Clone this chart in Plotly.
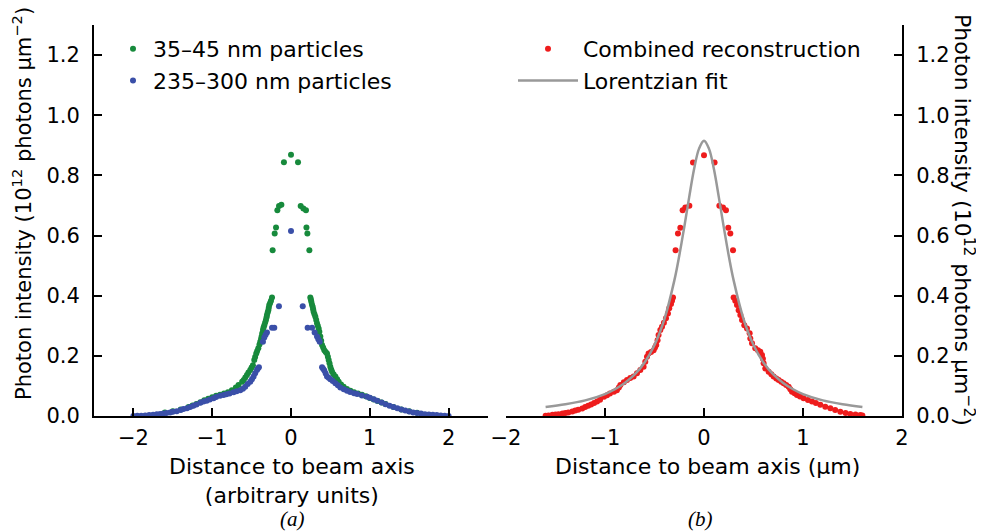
import plotly.graph_objects as go

# ---------------- data ----------------
# Panel (a): 35-45 nm particles (green)
green_x = [0.0, -0.09, 0.089, -0.173, -0.152, -0.122, 0.123, 0.157, 0.19,
           -0.19, -0.207, 0.196, 0.208, -0.233, 0.233,
           -1.60, -1.50, -1.40, -1.30, -1.25, -1.20, -1.15, -1.10, -1.05, -1.00,
           -0.95, -0.90, -0.85, -0.80, -0.75, -0.70, -0.666, -0.62, -0.60, -0.58,
           -0.559, -0.54, -0.517, -0.50, -0.483, -0.466, -0.455, -0.441, -0.43,
           -0.415, -0.40, -0.39, -0.38, -0.373, -0.365, -0.356, -0.348, -0.339,
           -0.328, -0.318, -0.31, -0.305, -0.296, -0.288, -0.282, -0.276, -0.265,
           -0.254, -0.241,
           0.245, 0.252, 0.258, 0.266, 0.275, 0.281, 0.287, 0.298, 0.309, 0.32,
           0.330, 0.340, 0.351, 0.36, 0.372, 0.383, 0.394, 0.408, 0.423, 0.44,
           0.457, 0.468, 0.478, 0.489, 0.499, 0.51, 0.521, 0.54, 0.563, 0.585,
           0.605, 0.635, 0.668, 0.71, 0.754, 0.80, 0.85, 0.90, 0.95, 1.00, 1.05,
           1.10, 1.15, 1.20, 1.30, 1.40, 1.50, 1.60]
green_y = [0.869, 0.844, 0.844, 0.684, 0.698, 0.702, 0.698, 0.690, 0.684,
           0.627, 0.607, 0.627, 0.607, 0.551, 0.551,
           0.012, 0.016, 0.022, 0.030, 0.035, 0.040, 0.046, 0.052, 0.057, 0.062,
           0.067, 0.071, 0.075, 0.079, 0.086, 0.095, 0.103, 0.114, 0.120, 0.128,
           0.136, 0.145, 0.153, 0.161, 0.169, 0.186, 0.196, 0.208, 0.216,
           0.225, 0.238, 0.247, 0.256, 0.264, 0.275, 0.286, 0.294, 0.302,
           0.311, 0.319, 0.328, 0.336, 0.344, 0.352, 0.360, 0.369, 0.376,
           0.383, 0.394,
           0.394, 0.387, 0.380, 0.371, 0.363, 0.355, 0.347, 0.338, 0.330, 0.319,
           0.308, 0.300, 0.291, 0.280, 0.264, 0.250, 0.236, 0.228, 0.219, 0.213,
           0.208, 0.197, 0.186, 0.175, 0.164, 0.155, 0.147, 0.139, 0.131, 0.122,
           0.114, 0.105, 0.097, 0.090, 0.084, 0.079, 0.075, 0.071, 0.066, 0.060,
           0.055, 0.050, 0.045, 0.040, 0.030, 0.022, 0.016, 0.011]

# Panel (a): 235-300 nm particles (blue)
blue_x = [0.0, -0.153, 0.149,
          -0.212, -0.241, -0.305, -0.322, -0.339, -0.356, -0.407, -0.42, -0.432,
          -0.455, -0.475, -0.496, -0.517, -0.55, -0.581, -0.61, -0.644, -0.69,
          -0.729, -0.78, -0.82, -0.856, -0.90, -0.95, -0.983, -1.03, -1.07, -1.11,
          -1.15, -1.20, -1.238, -1.28, -1.32, -1.365, -1.40, -1.45, -1.50, -1.534,
          -1.58, -1.62, -1.66, -1.703, -1.75, -1.80, -1.85, -1.90, -1.95, -2.00,
          0.211, 0.267, 0.30, 0.330, 0.347, 0.364, 0.394, 0.408, 0.423, 0.44,
          0.457, 0.478, 0.499, 0.53, 0.563, 0.595, 0.626, 0.67, 0.711, 0.75, 0.80,
          0.839, 0.90, 0.966, 1.00, 1.05, 1.093, 1.15, 1.20, 1.25, 1.30, 1.35,
          1.40, 1.45, 1.50, 1.55, 1.60, 1.65, 1.70, 1.75, 1.80, 1.85, 1.90, 1.95,
          2.00]
blue_y = [0.615, 0.365, 0.365,
          0.293, 0.293, 0.278, 0.270, 0.261, 0.247, 0.162, 0.158, 0.153,
          0.142, 0.131, 0.122, 0.114, 0.106, 0.097, 0.091, 0.086, 0.082,
          0.079, 0.075, 0.072, 0.070, 0.067, 0.063, 0.059, 0.055, 0.051, 0.048,
          0.044, 0.038, 0.034, 0.030, 0.026, 0.023, 0.020, 0.016, 0.014, 0.012,
          0.010, 0.008, 0.007, 0.006, 0.004, 0.003, 0.002, 0.001, 0.001, 0.000,
          0.293, 0.293, 0.278, 0.264, 0.255, 0.247, 0.162, 0.157, 0.151, 0.141,
          0.131, 0.127, 0.122, 0.116, 0.109, 0.102, 0.095, 0.089, 0.084, 0.080,
          0.076, 0.073, 0.068, 0.064, 0.061, 0.056, 0.051, 0.045, 0.039, 0.034,
          0.030, 0.026, 0.022, 0.018, 0.015, 0.012, 0.010, 0.008, 0.006, 0.005,
          0.004, 0.003, 0.002, 0.001, 0.000]

# Panel (b): combined reconstruction (red)
red_x = [0.0, -0.111, 0.107, -0.216, -0.189, -0.148, 0.155, 0.192, 0.222,
         -0.239, -0.263, 0.245, 0.266, -0.287, 0.293,
         -1.60, -1.57, -1.53, -1.50, -1.47, -1.43, -1.40, -1.37, -1.33, -1.30,
         -1.27, -1.23, -1.20, -1.17, -1.14, -1.11, -1.08, -1.05, -1.01, -0.98,
         -0.95, -0.91, -0.88, -0.86, -0.845, -0.81, -0.778, -0.745, -0.711,
         -0.677, -0.643, -0.61, -0.593, -0.576, -0.56, -0.535, -0.509, -0.495,
         -0.482, -0.469, -0.459, -0.441, -0.424, -0.405, -0.384, -0.364, -0.351,
         -0.333, -0.323, -0.313,
         0.299, 0.316, 0.333, 0.350, 0.367, 0.384, 0.407, 0.434, 0.461, 0.468,
         0.485, 0.518, 0.545, 0.569, 0.586, 0.595, 0.602, 0.619, 0.653, 0.68,
         0.703, 0.73, 0.754, 0.78, 0.804, 0.83, 0.855, 0.872, 0.889, 0.915,
         0.939, 0.97, 1.006, 1.05, 1.091, 1.13, 1.175, 1.225, 1.276, 1.325,
         1.377, 1.43, 1.478, 1.53, 1.579, 1.60]
red_y = [0.867, 0.843, 0.843, 0.684, 0.693, 0.699, 0.699, 0.693, 0.684,
         0.626, 0.607, 0.626, 0.607, 0.551, 0.551,
         0.001, 0.002, 0.004, 0.005, 0.006, 0.008, 0.010, 0.012, 0.015, 0.018,
         0.021, 0.025, 0.030, 0.034, 0.038, 0.043, 0.048, 0.054, 0.064, 0.069,
         0.075, 0.081, 0.086, 0.095, 0.103, 0.112, 0.120, 0.126, 0.131,
         0.142, 0.153, 0.164, 0.180, 0.197, 0.208, 0.213, 0.219, 0.228,
         0.236, 0.252, 0.269, 0.286, 0.297, 0.310, 0.325, 0.341, 0.358,
         0.372, 0.383, 0.394,
         0.394, 0.383, 0.369, 0.352, 0.336, 0.319, 0.302, 0.291, 0.275, 0.258,
         0.242, 0.225, 0.219, 0.214, 0.203, 0.190, 0.175, 0.158, 0.147, 0.139,
         0.131, 0.125, 0.120, 0.114, 0.109, 0.103, 0.097, 0.089, 0.081, 0.076,
         0.070, 0.065, 0.059, 0.053, 0.048, 0.043, 0.037, 0.031, 0.026, 0.020,
         0.014, 0.010, 0.007, 0.005, 0.003, 0.002]

# Panel (b): Lorentzian fit (grey line)
fit_x = [-1.6, -1.4, -1.2, -1.0, -0.9, -0.8, -0.7, -0.6, -0.5, -0.4, -0.3,
         -0.25, -0.2, -0.15, -0.1, -0.05, 0.0, 0.05, 0.1, 0.15, 0.2, 0.25, 0.3,
         0.4, 0.5, 0.6, 0.7, 0.8, 0.9, 1.0, 1.2, 1.4, 1.6]
fit_y = [0.030, 0.039, 0.052, 0.073, 0.089, 0.110, 0.138, 0.178, 0.236, 0.322,
         0.450, 0.533, 0.627, 0.727, 0.821, 0.889, 0.915, 0.889, 0.821, 0.727,
         0.627, 0.533, 0.450, 0.322, 0.236, 0.178, 0.138, 0.110, 0.089, 0.073,
         0.052, 0.039, 0.030]

x_ticks = [-2, -1, 0, 1, 2]
y_ticks = [0.0, 0.2, 0.4, 0.6, 0.8, 1.0, 1.2]

# ---------------- figure ----------------
FONT = "DejaVu Sans"
GREEN = "#178a3c"
BLUE = "#3a4fa8"
RED = "#ee1c1c"
GREY = "#999999"

fig = go.Figure()
fig.add_trace(go.Scatter(x=green_x, y=green_y, mode="markers", name="35–45 nm particles",
                         marker=dict(color=GREEN, size=6), xaxis="x", yaxis="y",
                         legend="legend", legendgroup="g1"))
fig.add_trace(go.Scatter(x=blue_x, y=blue_y, mode="markers", name="235–300 nm particles",
                         marker=dict(color=BLUE, size=6), xaxis="x", yaxis="y",
                         legend="legend", legendgroup="g2"))
fig.add_trace(go.Scatter(x=red_x, y=red_y, mode="markers", name="Combined reconstruction",
                         marker=dict(color=RED, size=6), xaxis="x2", yaxis="y2",
                         legend="legend2", legendgroup="g3"))
fig.add_trace(go.Scatter(x=fit_x, y=fit_y, mode="lines", name="Lorentzian fit",
                         line=dict(color=GREY, width=2.5, shape="spline"),
                         xaxis="x2", yaxis="y2", legend="legend2", legendgroup="g4"))

axis_common = dict(showgrid=False, zeroline=False, showline=True, linecolor="black",
                   linewidth=2, ticks="inside", ticklen=8, tickwidth=1.5,
                   tickcolor="black", tickfont=dict(family=FONT, size=21, color="black"))

# the page body has an 8px margin, so the figure is drawn from (8, 8)
OFF = 8
W, H = 984 - OFF, 532 - OFF
# absolute pixel positions in the window of the plot area
AX_L, AX_R, AX_T, AX_B = 94, 902, 25, 416
L = AX_L - OFF
R = W - (AX_R - OFF)
T = AX_T - OFF
B = H - (AX_B - OFF)
pw = AX_R - AX_L
ph = AX_B - AX_T


def px(pix):
    return (pix - AX_L) / pw


def py(pix):
    return (AX_B - pix) / ph


fig.update_layout(
    width=W, height=H,
    margin=dict(l=L, r=R, t=T, b=B),
    paper_bgcolor="white", plot_bgcolor="white",
    font=dict(family=FONT, size=22, color="black"),
    showlegend=True,
    xaxis=dict(domain=[0, px(488)], range=[-2.5, 2.5], tickvals=x_ticks,
               anchor="y", ticklabelstandoff=2, **axis_common),
    yaxis=dict(domain=[0, 1], range=[0, 1.3], tickvals=y_ticks, tickformat=".1f",
               anchor="x", ticklabelstandoff=8, **axis_common),
    xaxis2=dict(domain=[px(506), 1], range=[-2, 2], tickvals=x_ticks,
                anchor="y2", ticklabelstandoff=2, **axis_common),
    yaxis2=dict(domain=[0, 1], range=[0, 1.3], tickvals=y_ticks, tickformat=".1f",
                anchor="x2", side="right", ticklabelstandoff=8, **axis_common),
    legend=dict(x=px(113), y=py(28), xanchor="left", yanchor="top",
                bgcolor="rgba(0,0,0,0)", borderwidth=0, tracegroupgap=0,
                font=dict(family=FONT, size=22, color="black")),
    legend2=dict(x=px(513), y=py(28), xanchor="left", yanchor="top",
                 bgcolor="rgba(0,0,0,0)", borderwidth=0, tracegroupgap=0,
                 itemwidth=60,
                 font=dict(family=FONT, size=22, color="black")),
)

annotations = [
    dict(text="Distance to beam axis<br>(arbitrary units)", x=px(292), y=py(452),
         xref="paper", yref="paper", xanchor="center", yanchor="top", showarrow=False,
         font=dict(family=FONT, size=22)),
    dict(text="Distance to beam axis (μm)", x=px(707), y=py(452),
         xref="paper", yref="paper", xanchor="center", yanchor="top", showarrow=False,
         font=dict(family=FONT, size=22)),
    dict(text="<i>(a)</i>", x=px(292), y=py(519), xref="paper", yref="paper",
         xanchor="center", yanchor="middle", showarrow=False,
         font=dict(family="Liberation Serif", size=21)),
    dict(text="<i>(b)</i>", x=px(700), y=py(519), xref="paper", yref="paper",
         xanchor="center", yanchor="middle", showarrow=False,
         font=dict(family="Liberation Serif", size=21)),
    dict(text="Photon intensity (10<sup>12</sup> photons μm<sup>−2</sup>)",
         x=px(22), y=py(204), xref="paper", yref="paper", xanchor="center",
         yanchor="middle", textangle=-90, showarrow=False,
         font=dict(family=FONT, size=21)),
    dict(text="Photon intensity (10<sup>12</sup> photons μm<sup>−2</sup>)",
         x=px(964), y=py(220), xref="paper", yref="paper", xanchor="center",
         yanchor="middle", textangle=90, showarrow=False,
         font=dict(family=FONT, size=22)),
]
fig.update_layout(annotations=annotations)

fig.write_html("out.html", config={"displayModeBar": False})
